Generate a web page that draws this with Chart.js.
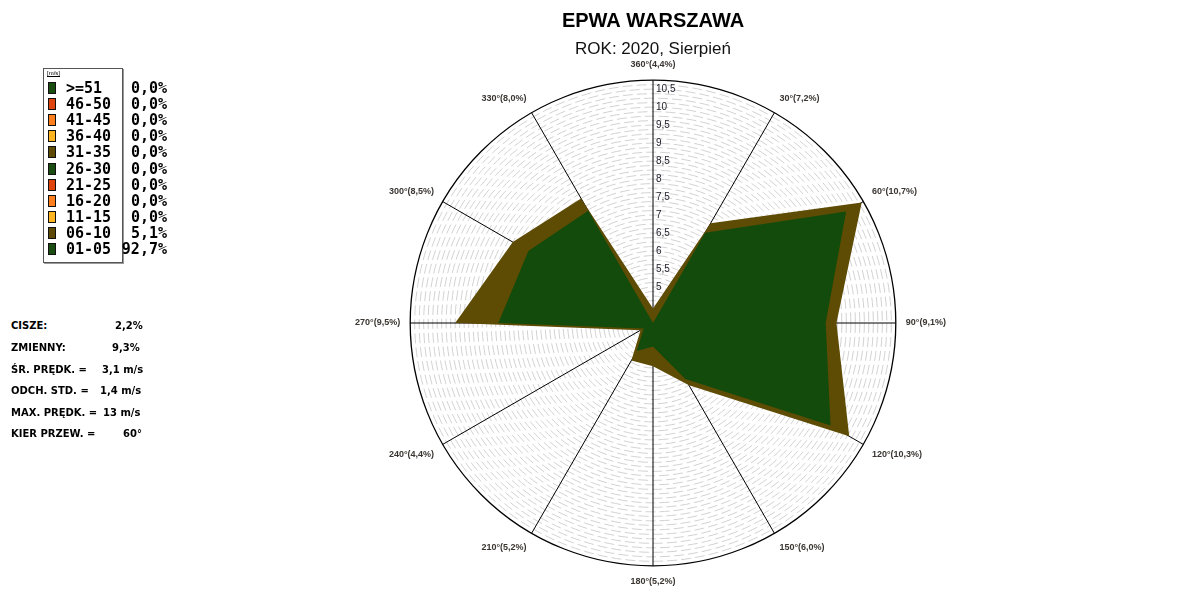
<!DOCTYPE html>
<html>
<head>
<meta charset="utf-8">
<title>EPWA WARSZAWA - róża wiatrów</title>
<script src="https://cdn.jsdelivr.net/npm/chart.js@4"></script>
<style>
  body { margin: 0; background: #fff; width: 1183px; height: 600px; position: relative; overflow: hidden; font-family: "Liberation Sans", Arial, sans-serif; }
  #wrap { position: absolute; left: 123px; top: 0; width: 1060px; height: 600px; }
  #legendBox { position: absolute; left: 43px; top: 68px; width: 78px; height: 193px; border: 1px solid #555; box-shadow: 1px 1px 0 #999; }
  #unit { position: absolute; left: 47px; top: 70px; font-size: 6px; text-decoration: underline; color: #000; }
  .sw { position: absolute; left: 48px; width: 6px; height: 10px; border: 1px solid #111; }
  .lg { position: absolute; font: bold 15px "DejaVu Sans Mono", monospace; line-height: 16px; color: #000; white-space: pre; }
  .st { position: absolute; font: bold 10px "DejaVu Sans", sans-serif; line-height: 12px; color: #000; white-space: pre; }
</style>
</head>
<body>
<div id="wrap"><canvas id="rose"></canvas></div>
<div id="legendBox"></div>
<div id="unit">[m/s]</div>
<div id="side"></div>

<script>
// kierunki i udział procentowy (całość) w każdym kierunku
const directions = [360, 30, 60, 90, 120, 150, 180, 210, 240, 270, 300, 330];
const totals     = [4.4, 7.2, 10.7, 9.1, 10.3, 6.0, 5.2, 5.2, 4.4, 9.5, 8.5, 8.0];
// część przypadająca na klasę 01-05 m/s (odczyt z wykresu)
const class0105  = [4.0, 6.9, 10.2, 8.8, 9.7, 5.8, 4.65, 4.9, 4.3, 8.3, 8.0, 7.6];

// etykiety osi
const tickLabels = [5, 5.5, 6, 6.5, 7, 7.5, 8, 8.5, 9, 9.5, 10, 10.5];
const rMin = 4;
const rMax = 10.75;

// legenda
const speedClasses = ['>=51', '46-50', '41-45', '36-40', '31-35', '26-30', '21-25', '16-20', '11-15', '06-10', '01-05'];
const classShares  = [0, 0, 0, 0, 0, 0, 0, 0, 0, 5.1, 92.7];
const classColors  = ['#1b4d12', '#e0440e', '#ff7f1e', '#ffb522', '#5c4a06', '#1b4d12', '#e0440e', '#ff7f1e', '#ffb522', '#5c4a06', '#1b4d12'];

// statystyki
const statNames  = ['CISZE:', 'ZMIENNY:', 'ŚR. PRĘDK. =', 'ODCH. STD. =', 'MAX. PRĘDK. =', 'KIER PRZEW. ='];
const statValues = ['2,2%', '9,3%', '3,1 m/s', '1,4 m/s', '13 m/s', '60°'];

const green = '#124b0b';
const brown = '#5e4b04';

function fmt(v) {
    return v.toFixed(1).replace('.', ',');
}

// legenda i statystyki po lewej
const side = document.getElementById('side');
speedClasses.forEach((name, i) => {
    const cy = 88 + i * 16.1;
    side.insertAdjacentHTML('beforeend',
        `<div class="sw" style="top:${cy - 6}px;background:${classColors[i]}"></div>` +
        `<div class="lg" style="left:66px;top:${cy - 8}px">${name.replace('>', '&gt;')}</div>` +
        `<div class="lg" style="left:108px;width:59px;text-align:right;top:${cy - 8}px">${fmt(classShares[i])}%</div>`);
});
const statY = [326, 348, 370, 391, 413, 434];
const statX = [115, 112, 102, 100, 103, 123];
statNames.forEach((name, i) => {
    side.insertAdjacentHTML('beforeend',
        `<div class="st" style="left:11px;top:${statY[i] - 6}px">${name}</div>` +
        `<div class="st" style="left:${statX[i]}px;top:${statY[i] - 6}px">${statValues[i]}</div>`);
});

// opisy skali na osi 360
const tickText = {
    id: 'tickText',
    beforeDatasetsDraw(chart) {
        const s = chart.scales.r;
        const ctx = chart.ctx;
        ctx.save();
        ctx.font = '10px "Liberation Sans", Arial';
        ctx.fillStyle = '#1c1c28';
        ctx.textAlign = 'left';
        ctx.textBaseline = 'middle';
        tickLabels.forEach(v => {
            const d = s.getDistanceFromCenterForValue(v);
            ctx.fillText(String(v).replace('.', ','), s.xCenter + 3, s.yCenter - d);
        });
        ctx.restore();
    }
};

const isOuter = c => c.tick && c.tick.value >= rMax - 1e-9;

new Chart(document.getElementById('rose'), {
    type: 'radar',
    data: {
        labels: directions.map((d, i) => d + '°(' + fmt(totals[i]) + '%)'),
        datasets: [
            {
                label: '01-05',
                data: class0105,
                backgroundColor: green,
                borderColor: 'transparent',
                borderWidth: 0,
                pointRadius: 0,
                fill: 'start'
            },
            {
                label: '06-10',
                data: totals,
                backgroundColor: brown,
                borderColor: 'transparent',
                borderWidth: 0,
                pointRadius: 0,
                fill: 'start'
            }
        ]
    },
    options: {
        responsive: true,
        maintainAspectRatio: false,
        animation: false,
        layout: { padding: { bottom: 13 } },
        plugins: {
            legend: { display: false },
            tooltip: { enabled: false },
            title: {
                display: true,
                text: 'EPWA WARSZAWA',
                color: '#000',
                font: { family: '"Liberation Sans", Arial', size: 20, weight: 'bold' },
                padding: { top: 9, bottom: 4 }
            },
            subtitle: {
                display: true,
                text: 'ROK: 2020, Sierpień',
                color: '#111',
                font: { family: '"Liberation Sans", Arial', size: 17 },
                padding: { top: 2, bottom: 0 }
            }
        },
        scales: {
            r: {
                min: rMin,
                max: rMax,
                ticks: { display: false, stepSize: 0.125 },
                grid: {
                    circular: true,
                    color: c => isOuter(c) ? '#000' : '#d2d2d2',
                    lineWidth: c => isOuter(c) ? 1.3 : 1
                },
                border: {
                    dash: c => isOuter(c) ? [] : [10, 4]
                },
                angleLines: { color: '#000', lineWidth: 1 },
                pointLabels: {
                    color: '#3a3530',
                    padding: 10,
                    font: { family: '"Liberation Sans", Arial', size: 9, weight: 'bold' }
                }
            }
        }
    },
    plugins: [tickText]
});
</script>
</body>
</html>
